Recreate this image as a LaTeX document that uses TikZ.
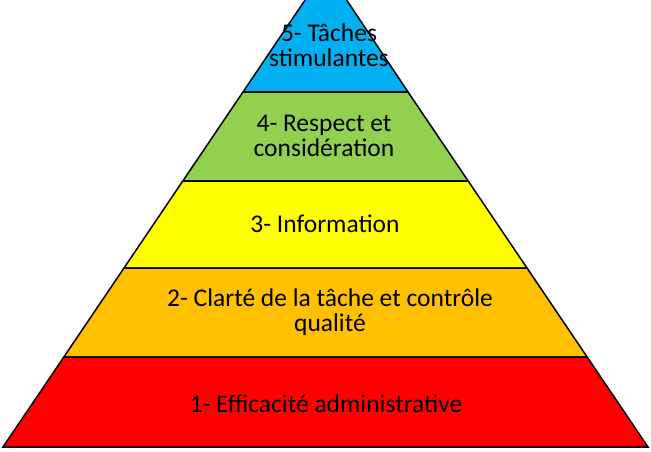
\documentclass[tikz,border=0pt]{standalone}
\usepackage{fontspec}
\setmainfont{Carlito}
\begin{document}
\begin{tikzpicture}[x=1pt,y=-1pt,
  layer/.style={draw=black,line width=1.5pt,line join=miter},
  lbl/.style={font=\fontsize{25.5}{25}\selectfont,align=center,text=black}]
\useasboundingbox (0,0) rectangle (651,451);
\clip (0,0) rectangle (651,451);
\def\L#1{3+(447-#1)*0.676}
\def\R#1{648-(447-#1)*0.676}
\fill[white] (0,0) rectangle (651,451);
\filldraw[layer,fill={rgb,255:red,0;green,176;blue,240}] (326,-31) -- ({\R{92}},92) -- ({\L{92}},92) -- cycle;
\filldraw[layer,fill={rgb,255:red,146;green,208;blue,80}] ({\L{92}},92) -- ({\R{92}},92) -- ({\R{181}},181) -- ({\L{181}},181) -- cycle;
\filldraw[layer,fill={rgb,255:red,255;green,255;blue,0}] ({\L{181}},181) -- ({\R{181}},181) -- ({\R{268}},268) -- ({\L{268}},268) -- cycle;
\filldraw[layer,fill={rgb,255:red,255;green,192;blue,0}] ({\L{268}},268) -- ({\R{268}},268) -- ({\R{357}},357) -- ({\L{357}},357) -- cycle;
\filldraw[layer,fill={rgb,255:red,255;green,0;blue,0}] ({\L{357}},357) -- ({\R{357}},357) -- ({\R{447}},447) -- ({\L{447}},447) -- cycle;
\node[lbl] (t5) at (329,45) {5- Tâches\\stimulantes};
\node[lbl] (t4) at (324,136) {4- Respect et\\considération};
\node[lbl] (t3) at (325,224) {3- Information};
\node[lbl] (t2) at (330,312) {2- Clarté de la tâche et contrôle\\qualité};
\node[lbl] (t1) at (326,404) {1- Efficacité administrative};
\end{tikzpicture}
\end{document}
